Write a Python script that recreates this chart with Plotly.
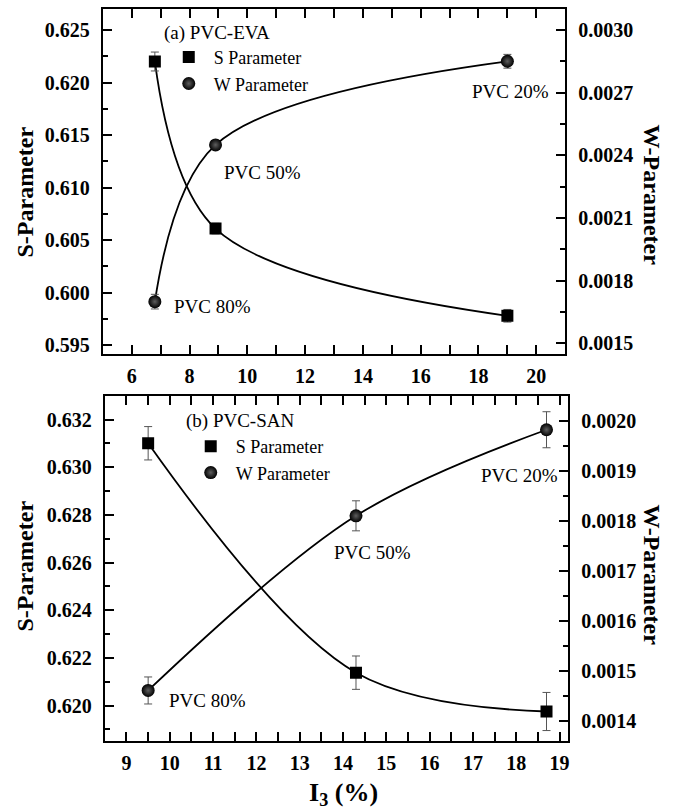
import plotly.graph_objects as go

# ---- data (top panel: PVC-EVA) ----
x_a = [6.8, 8.9, 19.0]
s_a = [0.6220, 0.6061, 0.5978]
s_a_err = [0.0009, 0.0005, 0.0006]
w_a = [0.00170, 0.00245, 0.00285]
w_a_err = [0.000035, 0.000020, 0.000033]
labels_a = ["PVC 80%", "PVC 50%", "PVC 20%"]

# ---- data (bottom panel: PVC-SAN) ----
x_b = [9.5, 14.3, 18.7]
s_b = [0.63101, 0.62138, 0.61975]
s_b_err = [0.0007, 0.0007, 0.0008]
w_b = [0.001462, 0.001811, 0.001983]
w_b_err = [0.000027, 0.000030, 0.000036]
labels_b = ["PVC 80%", "PVC 50%", "PVC 20%"]

W, H = 678, 810
SERIF = "Liberation Serif, Times New Roman, serif"
err_style = dict(type="data", color="#555555", thickness=1, width=4, visible=True)
sq = dict(symbol="square", size=12, color="black")
ball = dict(symbol="circle", size=13, color="black",
            gradient=dict(type="radial", color="#5e5e5e"))

fig = go.Figure()

def add_panel(x, s, se, w, we, xa, ys, yw, legend):
    fig.add_trace(go.Scatter(x=x, y=s, mode="lines", line=dict(color="black", width=1.8, shape="spline"),
                             xaxis=xa, yaxis=ys, showlegend=False, hoverinfo="skip"))
    fig.add_trace(go.Scatter(x=x, y=w, mode="lines", line=dict(color="black", width=1.8, shape="spline"),
                             xaxis=xa, yaxis=yw, showlegend=False, hoverinfo="skip"))
    fig.add_trace(go.Scatter(x=x, y=s, mode="markers", marker=sq, name="S Parameter",
                             error_y=dict(array=se, **err_style), xaxis=xa, yaxis=ys, legend=legend))
    fig.add_trace(go.Scatter(x=x, y=w, mode="markers", marker=ball, name="W Parameter",
                             error_y=dict(array=we, **err_style), xaxis=xa, yaxis=yw, legend=legend))

add_panel(x_a, s_a, s_a_err, w_a, w_a_err, "x", "y", "y2", "legend")
add_panel(x_b, s_b, s_b_err, w_b, w_b_err, "x2", "y3", "y4", "legend2")

tickfont = dict(family=SERIF, size=20, color="black", weight="bold")

def axis_common(**kw):
    d = dict(showline=True, linecolor="black", linewidth=2, ticks="inside", ticklen=9,
             tickwidth=1.5, tickcolor="black", tickfont=tickfont, showgrid=False,
             zeroline=False, ticklabelstandoff=7)
    d.update(kw)
    return d

def px_x(p):
    return p / W

def px_y(p):
    return 1 - p / H

minor = lambda d: dict(ticks="inside", ticklen=5, dtick=d, tickwidth=1.5, tickcolor="black")

fig.update_layout(
    width=W, height=H, margin=dict(l=0, r=0, t=0, b=0),
    paper_bgcolor="white", plot_bgcolor="white",
    xaxis=axis_common(domain=[px_x(103), px_x(566)], range=[5, 21], dtick=2, tick0=0,
                      anchor="y", mirror="allticks", ticklabelstandoff=3, minor=minor(1)),
    yaxis=axis_common(domain=[px_y(355), px_y(9)], range=[0.59415, 0.6270], dtick=0.005, tick0=0,
                      tickformat=".3f", anchor="x", side="left", minor=minor(0.0025)),
    yaxis2=axis_common(range=[0.0014489, 0.0031002], dtick=0.0003, tick0=0.0015,
                       tickformat=".4f", anchor="x", overlaying="y", side="right", minor=minor(0.00015)),
    xaxis2=axis_common(domain=[px_x(105), px_x(569)], range=[8.5, 19.2], dtick=1, tick0=0,
                       anchor="y3", mirror="allticks", ticklabelstandoff=3, minor=minor(0.5)),
    yaxis3=axis_common(domain=[px_y(743), px_y(397)], range=[0.618505, 0.632993], dtick=0.002, tick0=0,
                       tickformat=".3f", anchor="x2", side="left", minor=minor(0.001)),
    yaxis4=axis_common(range=[0.0013607, 0.0020504], dtick=0.0001, tick0=0.0014,
                       tickformat=".4f", anchor="x2", overlaying="y3", side="right", minor=minor(0.00005)),
    legend=dict(x=px_x(164), y=px_y(39), xanchor="left", yanchor="top", bgcolor="rgba(0,0,0,0)",
                font=dict(family=SERIF, size=18, color="black"), itemsizing="trace", itemwidth=40),
    legend2=dict(x=px_x(186), y=px_y(429), xanchor="left", yanchor="top", bgcolor="rgba(0,0,0,0)",
                 font=dict(family=SERIF, size=18, color="black"), itemsizing="trace", itemwidth=40),
    showlegend=True,
)

ann_font = dict(family=SERIF, size=19, color="black")
anns = [
    ("(a) PVC-EVA", 162, 33, "left"),
    (labels_a[0], 172, 307, "left"),
    (labels_a[1], 222, 173, "left"),
    (labels_a[2], 552, 92, "right"),
    ("(b) PVC-SAN", 184, 422, "left"),
    (labels_b[0], 167, 702, "left"),
    (labels_b[1], 414, 554, "right"),
    (labels_b[2], 561, 477, "right"),
]
for t, xp, yp, anc in anns:
    fig.add_annotation(text=t, x=px_x(xp), y=px_y(yp), xref="paper", yref="paper",
                       xanchor=anc, yanchor="middle", showarrow=False, font=ann_font)

title_font = dict(family=SERIF, size=24, color="black", weight="bold")
for t, xp, yp, ang in [("S-Parameter", 25, 192, -90), ("W-Parameter", 653, 195, 90),
                       ("S-Parameter", 25, 567, -90), ("W-Parameter", 653, 576, 90)]:
    fig.add_annotation(text=t, x=px_x(xp), y=px_y(yp), xref="paper", yref="paper",
                       xanchor="center", yanchor="middle", showarrow=False, textangle=ang,
                       font=title_font)
fig.add_annotation(text="I<sub>3</sub> (%)", x=px_x(344), y=px_y(796), xref="paper", yref="paper",
                   xanchor="center", yanchor="middle", showarrow=False,
                   font=dict(family=SERIF, size=26, color="black", weight="bold"))

fig.write_html("out.html")
